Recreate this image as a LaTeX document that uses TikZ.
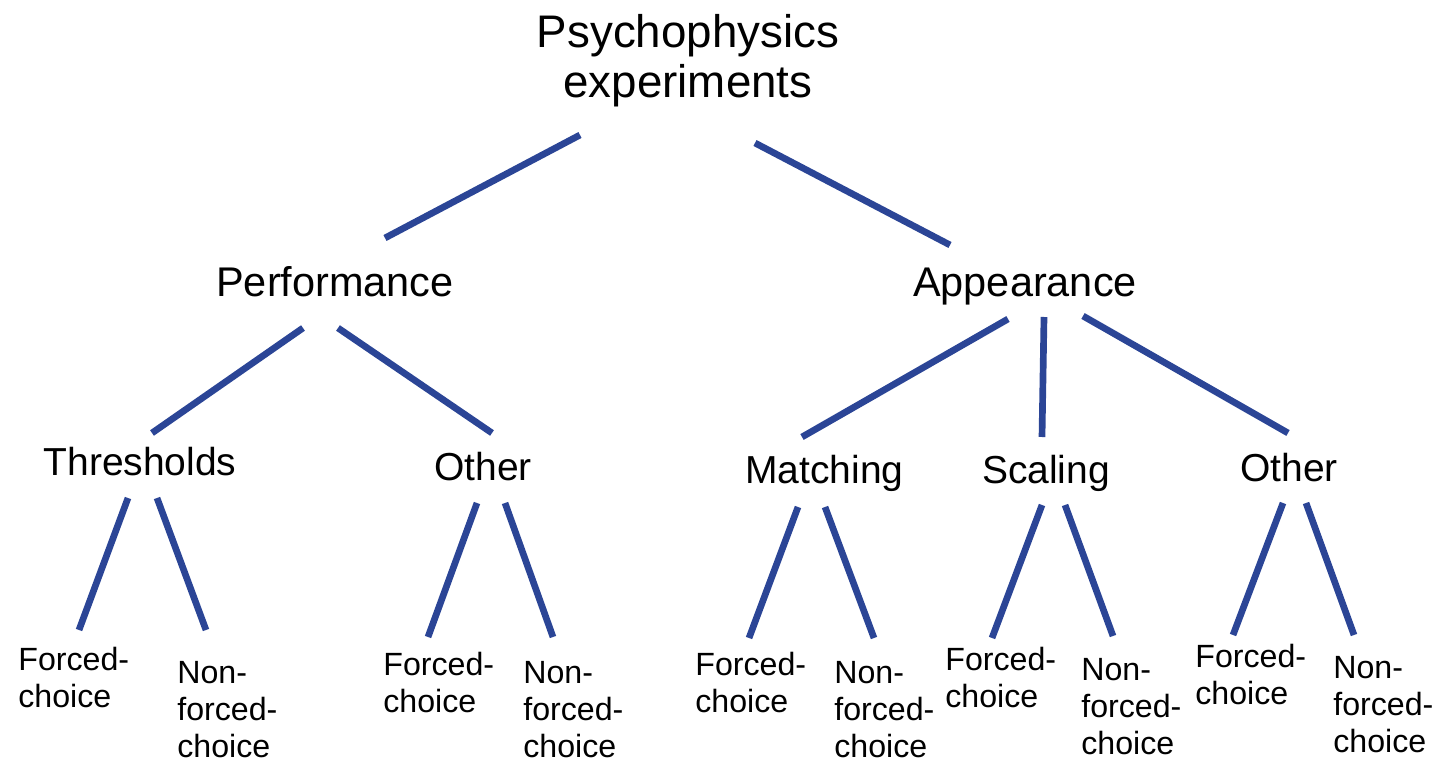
\documentclass[tikz,border=0pt]{standalone}
\usepackage{fontspec}
\setmainfont{Liberation Sans}
\usetikzlibrary{calc}
\definecolor{branchblue}{RGB}{43,69,150}

\tikzset{
	branch/.style={line width=3.8pt, branchblue},
	toplabel/.style={inner sep=0pt, align=center, anchor=base, font=\fontsize{26}{29}\selectfont},
	grouplabel/.style={inner sep=0pt, anchor=base, font=\fontsize{23.6}{28}\selectfont},
	methodlabel/.style={inner sep=0pt, anchor=base, font=\fontsize{22.2}{26}\selectfont},
	leaflabel/.style={inner sep=0pt, align=left, anchor=base west, font=\fontsize{18.3}{21}\selectfont}
}

\begin{document}
\begin{tikzpicture}[x=0.2mm, y=-0.2mm]
	\useasboundingbox (0,0) rectangle (1437,765);

	% labels (multi-line nodes sit on their last baseline)
	\node[toplabel] (root) at (688,98) {Psychophysics\\experiments};
	\node[grouplabel] (perf) at (335,297) {Performance};
	\node[grouplabel] (app) at (1025,297) {Appearance};
	\node[methodlabel] (thr) at (140,475) {Thresholds};
	\node[methodlabel] (othA) at (483,480) {Other};
	\node[methodlabel] (mat) at (824.5,483) {Matching};
	\node[methodlabel] (sca) at (1046,483) {Scaling};
	\node[methodlabel] (othB) at (1289,481) {Other};

	\node[leaflabel] (thrF) at (18,707) {Forced-\\choice};
	\node[leaflabel] (thrN) at (177,757) {Non-\\forced-\\choice};
	\node[leaflabel] (othAF) at (383,712) {Forced-\\choice};
	\node[leaflabel] (othAN) at (523,757) {Non-\\forced-\\choice};
	\node[leaflabel] (matF) at (695,712) {Forced-\\choice};
	\node[leaflabel] (matN) at (834,757) {Non-\\forced-\\choice};
	\node[leaflabel] (scaF) at (945,707) {Forced-\\choice};
	\node[leaflabel] (scaN) at (1081,754) {Non-\\forced-\\choice};
	\node[leaflabel] (othBF) at (1195,704) {Forced-\\choice};
	\node[leaflabel] (othBN) at (1333,752) {Non-\\forced-\\choice};

	% top level
	\draw[branch] ($(root.base)+(-108,37)$) -- ($(perf.base)+(50,-59)$);
	\draw[branch] ($(root.base)+(67,45)$) -- ($(app.base)+(-75,-52)$);

	% second level
	\draw[branch] ($(perf.base)+(-32,31)$) -- ($(thr.base)+(12,-42)$);
	\draw[branch] ($(perf.base)+(3,31)$) -- ($(othA.base)+(9,-47)$);
	\draw[branch] ($(app.base)+(-17,22)$) -- ($(mat.base)+(-22.5,-46)$);
	\draw[branch] ($(app.base)+(19,20)$) -- ($(sca.base)+(-4,-46)$);
	\draw[branch] ($(app.base)+(58,19)$) -- ($(othB.base)+(-1,-48)$);

	% leaves
	\draw[branch] ($(thr.base)+(-12,23)$) -- ($(thrF.base west)+(61,-77)$);
	\draw[branch] ($(thr.base)+(17,23)$) -- ($(thrN.base west)+(29,-127)$);
	\draw[branch] ($(othA.base)+(-6,23)$) -- ($(othAF.base west)+(45,-75)$);
	\draw[branch] ($(othA.base)+(22,23)$) -- ($(othAN.base west)+(30,-120)$);
	\draw[branch] ($(mat.base)+(-26.5,24)$) -- ($(matF.base west)+(54,-74)$);
	\draw[branch] ($(mat.base)+(0.5,24)$) -- ($(matN.base west)+(40,-119)$);
	\draw[branch] ($(sca.base)+(-4,22)$) -- ($(scaF.base west)+(47,-69)$);
	\draw[branch] ($(sca.base)+(19,22)$) -- ($(scaN.base west)+(32,-118)$);
	\draw[branch] ($(othB.base)+(-6,22)$) -- ($(othBF.base west)+(38,-69)$);
	\draw[branch] ($(othB.base)+(17,22)$) -- ($(othBN.base west)+(21,-117)$);
\end{tikzpicture}
\end{document}
